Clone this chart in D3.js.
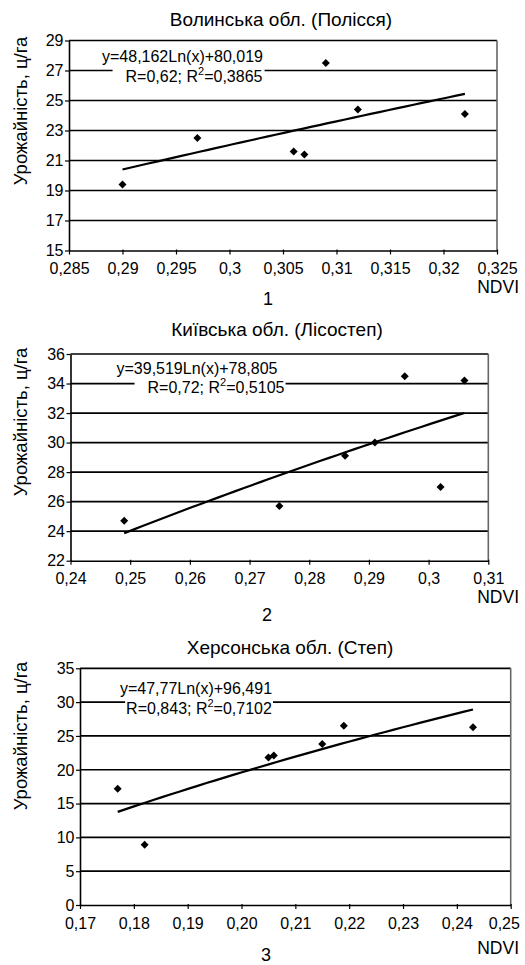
<!DOCTYPE html>
<html><head><meta charset="utf-8">
<script src="https://cdn.jsdelivr.net/npm/d3@7"></script>
<style>
html,body{margin:0;padding:0;background:#fff;}
svg{display:block;font-family:"Liberation Sans",Arial,sans-serif;}
</style></head>
<body><svg id="c" width="525" height="965"></svg>
<script>
// ---------- DATA ----------
const titles = ["Волинська обл. (Полісся)", "Київська обл. (Лісостеп)", "Херсонська обл. (Степ)"];
const yLabel = "Урожайність, ц/га";
const xLabel = "NDVI";
const panelNums = ["1", "2", "3"];

const volynX = [0.290, 0.297, 0.306, 0.307, 0.309, 0.312, 0.322];
const volynY = [19.4, 22.5, 21.6, 21.4, 27.5, 24.4, 24.1];
const kyivX = [0.249, 0.275, 0.286, 0.291, 0.296, 0.302, 0.306];
const kyivY = [24.7, 25.7, 29.1, 30.0, 34.5, 27.0, 34.2];
const khersonX = [0.177, 0.182, 0.205, 0.206, 0.215, 0.219, 0.243];
const khersonY = [17.2, 8.9, 21.8, 22.1, 23.8, 26.5, 26.3];

const volynFit = [48.162, 80.019];
const kyivFit = [39.519, 78.805];
const khersonFit = [47.77, 96.491];

const volynEq = ["y=48,162Ln(x)+80,019", "R=0,62; R", "=0,3865"];
const kyivEq = ["y=39,519Ln(x)+78,805", "R=0,72; R", "=0,5105"];
const khersonEq = ["y=47,77Ln(x)+96,491", "R=0,843; R", "=0,7102"];

const volynXTicks = [0.285, 0.29, 0.295, 0.3, 0.305, 0.31, 0.315, 0.32, 0.325];
const volynXTickLabels = ["0,285","0,29","0,295","0,3","0,305","0,31","0,315","0,32","0,325"];
const volynYTicks = [15, 17, 19, 21, 23, 25, 27, 29];
const kyivXTicks = [0.24, 0.25, 0.26, 0.27, 0.28, 0.29, 0.30, 0.31];
const kyivXTickLabels = ["0,24","0,25","0,26","0,27","0,28","0,29","0,3","0,31"];
const kyivYTicks = [22, 24, 26, 28, 30, 32, 34, 36];
const khersonXTicks = [0.17, 0.18, 0.19, 0.20, 0.21, 0.22, 0.23, 0.24, 0.25];
const khersonXTickLabels = ["0,17","0,18","0,19","0,20","0,21","0,22","0,23","0,24","0,25"];
const khersonYTicks = [0, 5, 10, 15, 20, 25, 30, 35];

// ---------- LAYOUT (positions / styles) ----------
const layouts = [
  {l:69, r:497, t:40.5, b:250.5, titleX:281, titleY:26, yLabY:111, ndviY:293, numX:268, numY:305,
   eqX1:182.5, eqY1:61.5, eqX2:194, eqY2:81.5, padL:13, padR:2},
  {l:70.5, r:488.3, t:354, b:560.7, titleX:277, titleY:336, yLabY:422, ndviY:603, numX:267, numY:621,
   eqX1:197, eqY1:374, eqX2:216, eqY2:393.3, padL:13, padR:1},
  {l:80, r:510.7, t:668.3, b:905, titleX:290, titleY:654, yLabY:736, ndviY:954, numX:266, numY:961,
   eqX1:196, eqY1:694.3, eqX2:199, eqY2:714, padL:1, padR:1}
];

const panels = [
  {xs:volynX, ys:volynY, fit:volynFit, eq:volynEq, xt:volynXTicks, xtl:volynXTickLabels, yt:volynYTicks},
  {xs:kyivX, ys:kyivY, fit:kyivFit, eq:kyivEq, xt:kyivXTicks, xtl:kyivXTickLabels, yt:kyivYTicks},
  {xs:khersonX, ys:khersonY, fit:khersonFit, eq:khersonEq, xt:khersonXTicks, xtl:khersonXTickLabels, yt:khersonYTicks}
];

const svg = d3.select("#c");
const FS = 16;
const TFS = 16;
const FF = "Liberation Sans, Arial, sans-serif";

panels.forEach((p, i) => {
  const L = layouts[i];
  const g = svg.append("g");
  const x = d3.scaleLinear().domain([p.xt[0], p.xt[p.xt.length-1]]).range([L.l, L.r]);
  const y = d3.scaleLinear().domain([p.yt[0], p.yt[p.yt.length-1]]).range([L.b, L.t]);

  // gridlines
  g.selectAll(".grid").data(p.yt.slice(1)).enter().append("line")
    .attr("x1", L.l).attr("x2", L.r).attr("y1", d => y(d)).attr("y2", d => y(d))
    .attr("stroke", "#000").attr("stroke-width", 1.7);
  // right border
  g.append("line").attr("x1", L.r).attr("x2", L.r).attr("y1", L.t).attr("y2", L.b)
    .attr("stroke", "#666").attr("stroke-width", 1.6);

  // axes
  const xa = d3.axisBottom(x).tickValues(p.xt).tickSize(4).tickSizeOuter(0)
    .tickFormat((d, k) => p.xtl[k]);
  const xg = g.append("g").attr("transform", `translate(0,${L.b})`).call(xa);
  xg.select(".domain").attr("stroke", "#000").attr("stroke-width", 1.6);
  xg.selectAll(".tick line").attr("stroke", "#000").attr("stroke-width", 1.2).attr("y1", -1);
  xg.selectAll(".tick text").attr("font-size", TFS).attr("font-family", FF)
    .attr("fill", "#000").attr("dy", null).attr("y", 23.5);
  // keep the last label inside the picture, like the reference
  xg.selectAll(".tick").each(function() {
    const tick = d3.select(this);
    const t = tick.select("text");
    const bb = t.node().getBBox();
    const tx = +tick.attr("transform").match(/translate\(([-\d.]+)/)[1];
    const over = tx + bb.x + bb.width - 520;
    if (over > 0) t.attr("x", -over);
  });

  const ya = d3.axisLeft(y).tickValues(p.yt).tickSize(4).tickSizeOuter(0).tickFormat(d => d);
  const yg = g.append("g").attr("transform", `translate(${L.l},0)`).call(ya);
  yg.select(".domain").attr("stroke", "#000").attr("stroke-width", 1.6);
  yg.selectAll(".tick line").attr("stroke", "#000").attr("stroke-width", 1.2);
  yg.selectAll(".tick text").attr("font-size", TFS).attr("font-family", FF)
    .attr("fill", "#000").attr("x", -5.5).attr("dy", "0.33em");

  // equation label
  const eg = g.append("g");
  const bg = eg.append("rect").attr("fill", "#fff");
  eg.append("text").attr("x", L.eqX1).attr("y", L.eqY1).attr("text-anchor", "middle")
    .attr("font-size", FS).text(p.eq[0]);
  const t2 = eg.append("text").attr("x", L.eqX2).attr("y", L.eqY2).attr("text-anchor", "middle")
    .attr("font-size", FS);
  t2.append("tspan").text(p.eq[1]);
  t2.append("tspan").attr("font-size", 11).attr("dy", -7).text("2");
  t2.append("tspan").attr("dy", 7).text(p.eq[2]);
  const bb = t2.node().getBBox();
  bg.attr("x", bb.x - L.padL).attr("y", bb.y).attr("width", bb.width + L.padL + L.padR).attr("height", bb.height);

  // trend line
  const x0 = d3.min(p.xs), x1 = d3.max(p.xs);
  const samples = d3.range(0, 41).map(k => x0 + (x1 - x0) * k / 40);
  const line = d3.line().x(d => x(d)).y(d => y(p.fit[0] * Math.log(d) + p.fit[1]));
  g.append("path").datum(samples).attr("d", line).attr("fill", "none")
    .attr("stroke", "#000").attr("stroke-width", 2.2);

  // points
  const diamond = "M0,-4L4,0L0,4L-4,0Z";
  g.selectAll(".pt").data(p.xs.map((v, k) => [v, p.ys[k]])).enter().append("path")
    .attr("d", diamond).attr("transform", d => `translate(${x(d[0])},${y(d[1])})`).attr("fill", "#000");

  // titles & labels
  g.append("text").attr("x", L.titleX).attr("y", L.titleY).attr("text-anchor", "middle")
    .attr("font-size", 19).text(titles[i]);
  g.append("text").attr("transform", `translate(20,${L.yLabY}) rotate(-90)`).attr("text-anchor", "middle")
    .attr("dominant-baseline", "central").attr("font-size", 18.5).text(yLabel);
  g.append("text").attr("x", 519).attr("y", L.ndviY).attr("text-anchor", "end")
    .attr("font-size", 17.5).text(xLabel);
  g.append("text").attr("x", L.numX).attr("y", L.numY).attr("text-anchor", "middle")
    .attr("font-size", 18).text(panelNums[i]);
});
</script></body></html>
